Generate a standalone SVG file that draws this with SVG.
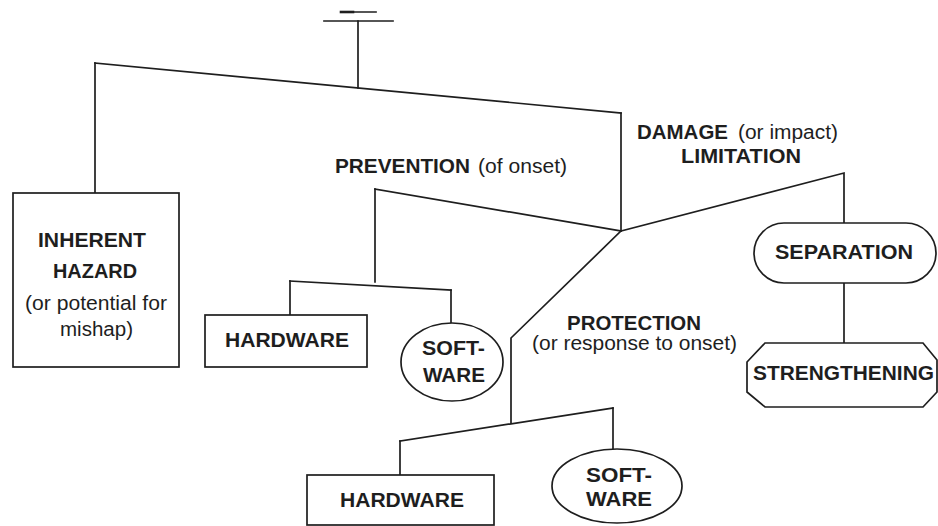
<svg xmlns="http://www.w3.org/2000/svg" width="938" height="526" viewBox="0 0 938 526">
<style>
.ln{fill:none;stroke:#1e1e1e;stroke-width:1.7;stroke-linecap:square}
.nd{fill:#fff;stroke:#1e1e1e;stroke-width:1.7}
.b{font-family:"Liberation Sans",Arial,sans-serif;font-weight:bold;font-size:21px;fill:#1e1e1e}
.r{font-family:"Liberation Sans",Arial,sans-serif;font-size:20px;fill:#1e1e1e}
</style>
<rect width="938" height="526" fill="#fff"/>
<g id="connectors">
<path class="ln" d="M341,12 H376"/>
<path class="ln" style="stroke-width:2.6" d="M341,12 H353"/>
<path class="ln" d="M324,21 H393"/>
<path class="ln" d="M358,21 V88"/>
<path class="ln" d="M95,63 L621,113"/>
<path class="ln" d="M95,63 V193"/>
<path class="ln" d="M621,113 V231"/>
<path class="ln" d="M375,189 L621,231"/>
<path class="ln" d="M375,189 V282"/>
<path class="ln" d="M290,281 L451,290"/>
<path class="ln" d="M290,281 V315"/>
<path class="ln" d="M451,290 V323"/>
<path class="ln" d="M621,231 L844,173 V223"/>
<path class="ln" d="M844,283 V343"/>
<path class="ln" d="M621,231 L511,338 V423"/>
<path class="ln" d="M400,441 L613,408"/>
<path class="ln" d="M400,441 V475"/>
<path class="ln" d="M613,408 V449"/>
</g>
<g id="labels">
<text class="b" x="335" y="173" textLength="135" lengthAdjust="spacingAndGlyphs">PREVENTION</text>
<text class="r" x="478" y="173" textLength="89" lengthAdjust="spacingAndGlyphs">(of onset)</text>
<text class="b" x="637" y="139" textLength="91" lengthAdjust="spacingAndGlyphs">DAMAGE</text>
<text class="r" x="738" y="139" textLength="100" lengthAdjust="spacingAndGlyphs">(or impact)</text>
<text class="b" x="681" y="163" textLength="120" lengthAdjust="spacingAndGlyphs">LIMITATION</text>
<text class="b" x="567" y="330" textLength="134" lengthAdjust="spacingAndGlyphs">PROTECTION</text>
<text class="r" x="532" y="350" textLength="205" lengthAdjust="spacingAndGlyphs">(or response to onset)</text>
</g>
<g id="inherent-hazard">
<rect class="nd" x="13" y="193" width="166" height="174"/>
<text class="b" x="38" y="247" textLength="108" lengthAdjust="spacingAndGlyphs">INHERENT</text>
<text class="b" x="53" y="278" textLength="84" lengthAdjust="spacingAndGlyphs">HAZARD</text>
<text class="r" x="25" y="310" textLength="142" lengthAdjust="spacingAndGlyphs">(or potential for</text>
<text class="r" x="60" y="336" textLength="73" lengthAdjust="spacingAndGlyphs">mishap)</text>
</g>
<g id="hardware-1">
<rect class="nd" x="205" y="315" width="162" height="52"/>
<text class="b" x="225" y="347" textLength="124" lengthAdjust="spacingAndGlyphs">HARDWARE</text>
</g>
<g id="software-1">
<ellipse class="nd" cx="452" cy="362" rx="51" ry="39"/>
<text class="b" x="422" y="355" textLength="63" lengthAdjust="spacingAndGlyphs">SOFT-</text>
<text class="b" x="423" y="382" textLength="62" lengthAdjust="spacingAndGlyphs">WARE</text>
</g>
<g id="separation">
<rect class="nd" x="754" y="223" width="182" height="60" rx="30" ry="30"/>
<text class="b" x="775" y="259" textLength="138" lengthAdjust="spacingAndGlyphs">SEPARATION</text>
</g>
<g id="strengthening">
<path class="nd" d="M765,343 H923 L937,360 V392 L923,407 H765 L747,392 V362 Z"/>
<text class="b" x="753" y="380" textLength="181" lengthAdjust="spacingAndGlyphs">STRENGTHENING</text>
</g>
<g id="hardware-2">
<rect class="nd" x="307" y="475" width="187" height="50"/>
<text class="b" x="340" y="507" textLength="124" lengthAdjust="spacingAndGlyphs">HARDWARE</text>
</g>
<g id="software-2">
<ellipse class="nd" cx="617" cy="486" rx="65" ry="37"/>
<text class="b" x="586" y="482" textLength="66" lengthAdjust="spacingAndGlyphs">SOFT-</text>
<text class="b" x="586" y="506" textLength="66" lengthAdjust="spacingAndGlyphs">WARE</text>
</g>
</svg>
